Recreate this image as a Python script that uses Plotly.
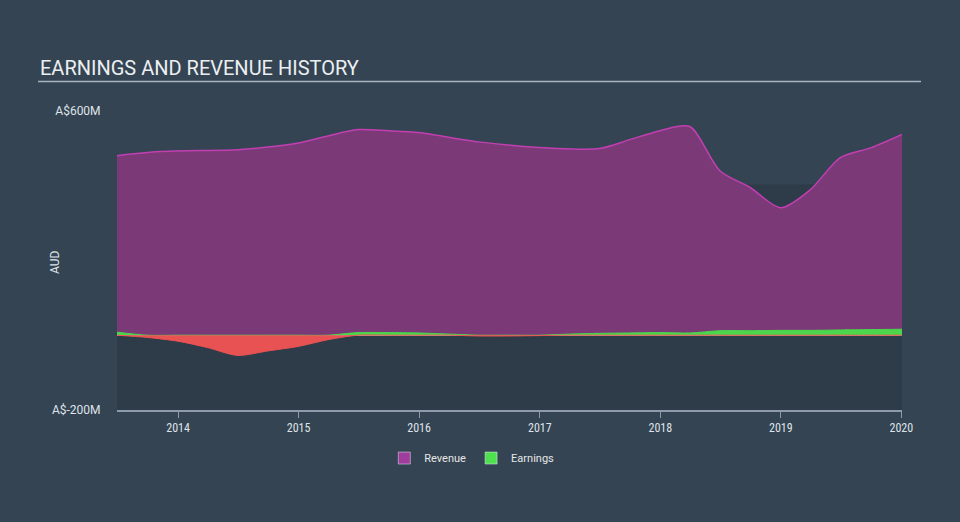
import numpy as np
import plotly.graph_objects as go

# ---- data ----
rev_dates = ["2013-06-30", "2013-11-06", "2014-06-30", "2014-09-30", "2014-12-31",
             "2015-03-31", "2015-06-30", "2015-09-30", "2015-12-31", "2016-06-30",
             "2016-12-31", "2017-06-30", "2017-09-30", "2017-12-31", "2018-03-31",
             "2018-06-30", "2018-09-30", "2018-12-31", "2019-03-31", "2019-06-30",
             "2019-09-30", "2020-01-03"]
revenue = [480, 491, 496, 503, 514, 533, 550, 547, 542, 517, 502, 499, 523, 547, 558,
           440, 395, 341, 389, 475, 501, 537]

earn_dates = ["2013-06-30", "2013-09-30", "2013-12-31", "2014-03-31", "2014-06-30",
              "2014-09-30", "2014-12-31", "2015-03-31", "2015-06-30", "2015-09-30",
              "2015-12-31", "2016-03-31", "2016-06-30", "2016-09-30", "2016-12-31",
              "2017-03-31", "2017-06-30", "2017-09-30", "2017-12-31", "2018-03-31",
              "2018-06-30", "2018-09-30", "2018-12-31", "2019-03-31", "2019-06-30",
              "2019-09-30", "2020-01-03"]
earnings = [8, -6, -16, -33, -54, -42, -30, -12, 7, 7, 6, 3, -2, -2, -1, 3, 5, 6, 7, 6,
            12, 12, 13, 13, 14, 15, 16]

y_tickvals = [-200, 600]
y_ticktext = ["A$-200M", "A$600M"]
x_tickvals = ["2014-01-01", "2015-01-01", "2016-01-01", "2017-01-01", "2018-01-01",
              "2019-01-01", "2020-01-01"]
x_ticktext = ["2014", "2015", "2016", "2017", "2018", "2019", "2020"]

earn_arr = np.array(earnings, dtype=float)
earn_pos = np.maximum(earn_arr, 0)
earn_neg = np.minimum(earn_arr, 0)

BG = "#344453"
DARK = "#2e3b49"

fig = go.Figure()
fig.add_trace(go.Scatter(
    x=rev_dates, y=revenue, name="Revenue", mode="lines", showlegend=False,
    line=dict(color="#c23fb2", width=1.5, shape="spline", smoothing=0.8),
    fill="tozeroy", fillcolor="#7b3a77"))
fig.add_trace(go.Scatter(
    x=earn_dates, y=earn_pos, name="Earnings", mode="lines", showlegend=False,
    line=dict(color="#4cd64c", width=1, shape="spline", smoothing=0.8),
    fill="tozeroy", fillcolor="#4cd64c"))
fig.add_trace(go.Scatter(
    x=earn_dates, y=earn_neg, name="Earnings (neg)", mode="lines", showlegend=False,
    line=dict(color="#e85252", width=1, shape="spline", smoothing=0.8),
    fill="tozeroy", fillcolor="#e85252"))
# legend entries (square swatches)
fig.add_trace(go.Bar(x=[None], y=[None], name="Revenue", marker=dict(color="#a03c9c")))
fig.add_trace(go.Bar(x=[None], y=[None], name="Earnings", marker=dict(color="#4ee04e")))

fig.update_layout(
    width=960, height=522,
    margin=dict(l=117, r=58, t=100, b=112),
    paper_bgcolor=BG, plot_bgcolor=BG,
    font=dict(family="Roboto, sans-serif", color="#dfe3e8", size=12),
    showlegend=True,
    legend=dict(orientation="h", x=0.452, y=-0.155, xanchor="center", yanchor="middle",
                font=dict(size=11, color="#e6e6e6"), bgcolor="rgba(0,0,0,0)",
                tracegroupgap=0),
    shapes=[
        dict(type="rect", xref="paper", x0=0, x1=1, yref="y", y0=-200, y1=403,
             fillcolor=DARK, line=dict(width=0), layer="below"),
        dict(type="line", xref="paper", x0=(38 - 117) / 785, x1=(921 - 117) / 785,
             yref="paper", y0=(410 - 81.5) / 310, y1=(410 - 81.5) / 310,
             line=dict(color="#a9b3bd", width=1.5)),
    ],
    annotations=[
        dict(text="EARNINGS AND REVENUE HISTORY", xref="paper", yref="paper",
             x=(38 - 117) / 785, y=(410 - 68) / 310, xanchor="left", yanchor="middle",
             showarrow=False, font=dict(size=20, color="#eceff2", family="Roboto")),
        dict(text="AUD", xref="paper", yref="paper", x=(55 - 117) / 785,
             y=(410 - 262) / 310, xanchor="center", yanchor="middle", textangle=-90,
             showarrow=False, font=dict(size=12, color="#dfe3e8")),
    ],
)
fig.update_xaxes(
    type="date", range=["2013-06-30", "2020-01-03"],
    tickvals=x_tickvals, ticktext=x_ticktext,
    showgrid=False, zeroline=False,
    showline=True, linecolor="#8d9bab", linewidth=1.5,
    ticks="outside", ticklen=6, tickcolor="#8d9bab", tickwidth=1,
    tickfont=dict(family="Roboto Condensed, Liberation Sans Narrow, Roboto", size=12,
                  color="#dfe3e8"),
)
fig.update_yaxes(
    range=[-200, 629], tickvals=y_tickvals, ticktext=y_ticktext,
    showgrid=False, showline=False,
    zeroline=True, zerolinecolor="#e0e0e0", zerolinewidth=1,
    ticks="outside", ticklen=13, tickcolor="rgba(0,0,0,0)",
    tickfont=dict(size=12, color="#dfe3e8"),
)

fig.write_html("out.html", config={"displayModeBar": False},
               post_script="document.body.style.margin='0';document.body.style.overflow='hidden';")
